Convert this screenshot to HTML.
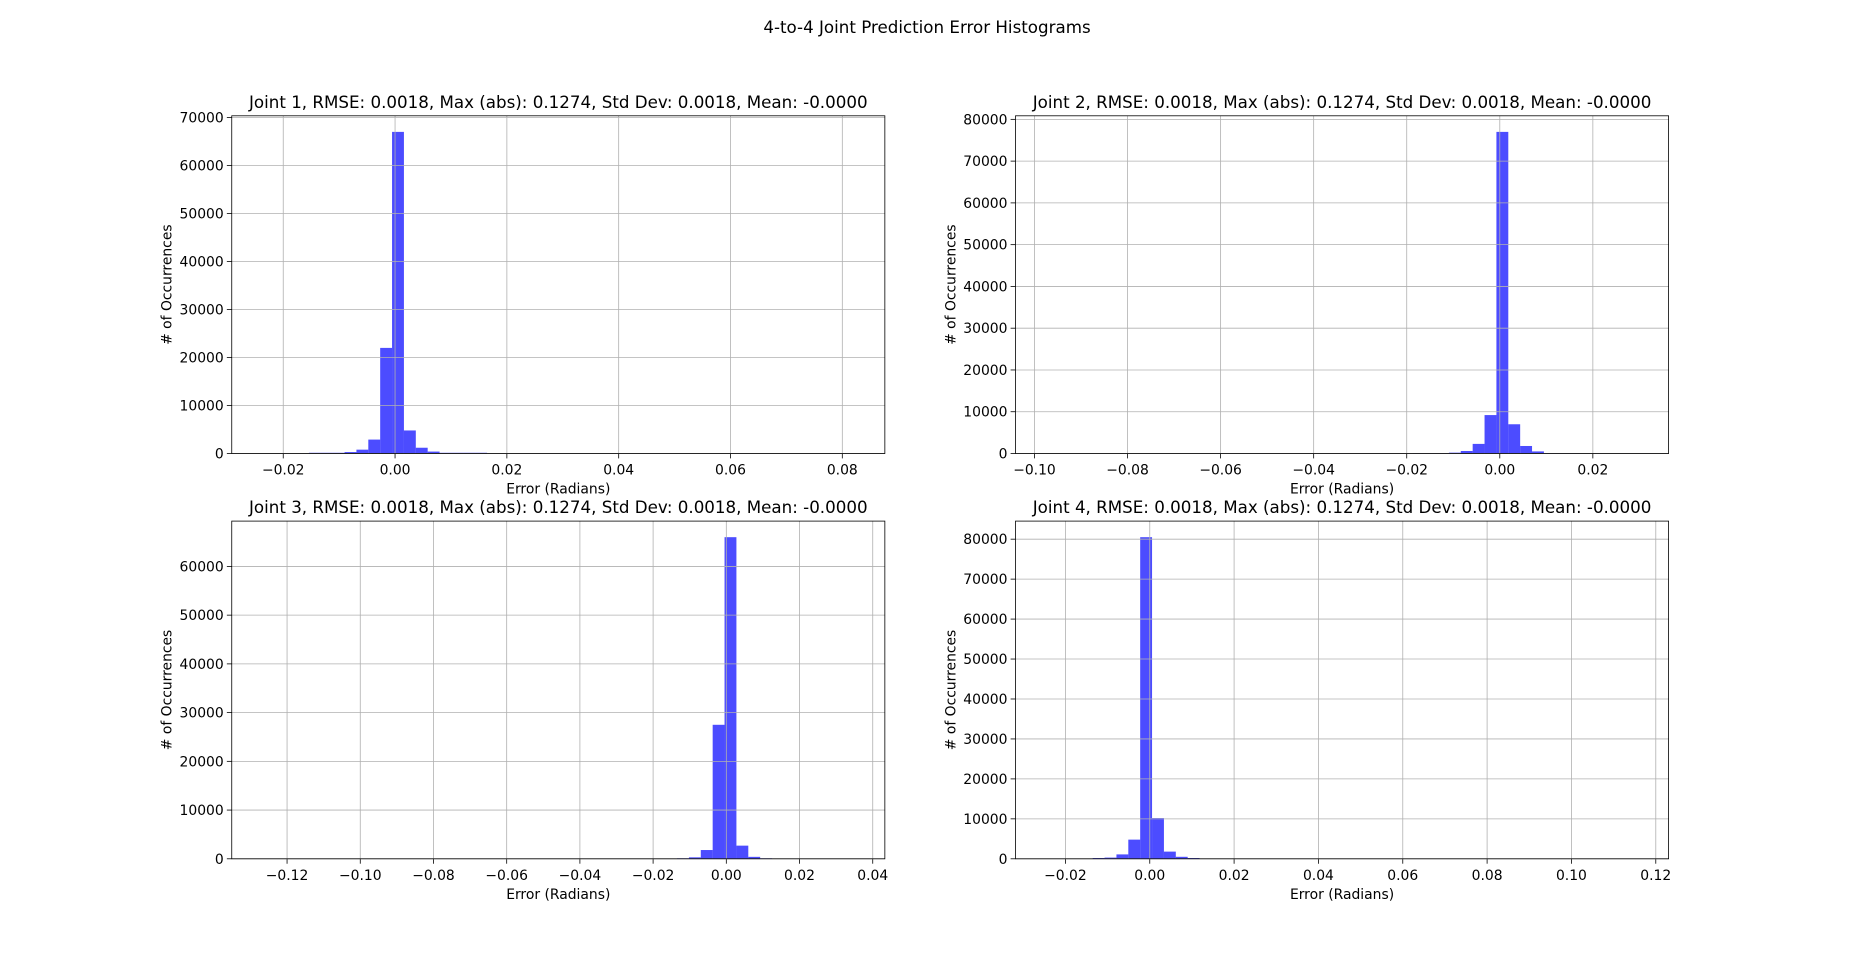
<!DOCTYPE html>
<html><head><meta charset="utf-8"><style>
body{margin:0;background:#fff}
svg{display:block;font-family:"DejaVu Sans","Liberation Sans",sans-serif}
</style></head><body>
<svg id="fig" width="1854" height="965">
<rect width="1854" height="965" fill="#fff"/>
<text x="927" y="33" font-size="16.7" text-anchor="middle">4-to-4 Joint Prediction Error Histograms</text>
</svg>
<script>
const titles=["Joint 1","Joint 2","Joint 3","Joint 4"];
const binMin=[-0.0239,-0.0977,-0.1270,-0.0248];
const binMax=[0.0823,0.0299,0.0352,0.1160];
const counts1=[0,0,0,0,150,150,150,300,800,2900,22000,67000,4800,1200,400,150,150,150,150,0,0,0,0,0,0,0,0,0,0,0,0,0,0,0,0,0,0,0,0,0,0,0,0,0,0,0,0,0,0,0];
const counts2=[0,0,0,0,0,0,0,0,0,0,0,0,0,0,0,0,0,0,0,0,0,0,0,0,0,0,0,0,0,0,0,100,100,100,200,600,2300,9200,77000,7000,1800,500,100,100,100,0,0,0,0,0];
const counts3=[0,0,0,0,0,0,0,0,0,0,0,0,0,0,0,0,0,0,0,0,0,0,0,0,0,0,0,0,0,0,0,0,0,0,0,100,300,1800,27500,66000,2700,400,100,0,0,0,0,0,0,0];
const counts4=[0,0,0,0,200,300,1100,4800,80500,10200,1800,500,200,0,0,0,0,0,0,0,0,0,0,0,0,0,0,0,0,0,0,0,0,0,0,0,0,0,0,0,0,0,0,0,0,0,0,0,0,0];
const xTicks1=[-0.02,0,0.02,0.04,0.06,0.08];
const xTicks2=[-0.10,-0.08,-0.06,-0.04,-0.02,0,0.02];
const xTicks3=[-0.12,-0.10,-0.08,-0.06,-0.04,-0.02,0,0.02,0.04];
const xTicks4=[-0.02,0,0.02,0.04,0.06,0.08,0.10,0.12];
const yTicks1=[0,10000,20000,30000,40000,50000,60000,70000];
const yTicks2=[0,10000,20000,30000,40000,50000,60000,70000,80000];
const yTicks3=[0,10000,20000,30000,40000,50000,60000];
const yTicks4=[0,10000,20000,30000,40000,50000,60000,70000,80000];
const allCounts=[counts1,counts2,counts3,counts4];
const allX=[xTicks1,xTicks2,xTicks3,xTicks4];
const allY=[yTicks1,yTicks2,yTicks3,yTicks4];
const boxes=[[231.75,115.8,653.1,337.7],[1015.5,115.8,653.1,337.7],[231.75,521.1,653.1,337.7],[1015.5,521.1,653.1,337.7]];
const NS="http://www.w3.org/2000/svg";
const fig=document.getElementById('fig');
function mk(tag,attrs,parent){const e=document.createElementNS(NS,tag);for(const k in attrs)e.setAttribute(k,attrs[k]);(parent||fig).appendChild(e);return e;}
function fmtX(v){if(Math.abs(v)<1e-12)return "0.00";return (v<0?"\u2212":"")+Math.abs(v).toFixed(2);}
for(let i=0;i<4;i++){
  const [L,T,W,H]=boxes[i];
  const c=allCounts[i], n=c.length;
  const span=binMax[i]-binMin[i], pad=span*0.05;
  const x0=binMin[i]-pad, x1=binMax[i]+pad;
  const ymax=Math.max(...c)*1.05;
  const X=v=>L+(v-x0)/(x1-x0)*W;
  const Y=v=>T+H-v/ymax*H;
  const g=mk('g',{});
  
  
  const bw=span/n;
  for(let k=0;k<n;k++){
    if(c[k]<=0)continue;
    const xa=X(binMin[i]+k*bw), xb=X(binMin[i]+(k+1)*bw);
    const r=mk('rect',{x:xa,y:Y(c[k]),width:xb-xa,height:Y(0)-Y(c[k]),fill:'#0000ff','fill-opacity':0.7},g);
    
    
  }
  allX[i].forEach(t=>{
    const x=X(t);
    const gl=mk('line',{x1:x,x2:x,y1:T,y2:T+H,stroke:'#b0b0b0','stroke-width':0.8},g);
    
    
    mk('line',{x1:x,x2:x,y1:T+H,y2:T+H+4.9,stroke:'#000','stroke-width':0.8},g);
    const tx=mk('text',{x:x,y:T+H+21,'font-size':13.9,'text-anchor':'middle'},g);
    tx.textContent=fmtX(t);
    
    
  });
  allY[i].forEach(t=>{
    const y=Y(t);
    const gl=mk('line',{x1:L,x2:L+W,y1:y,y2:y,stroke:'#b0b0b0','stroke-width':0.8},g);
    
    
    mk('line',{x1:L-4.9,x2:L,y1:y,y2:y,stroke:'#000','stroke-width':0.8},g);
    const tx=mk('text',{x:L-8,y:y+5,'font-size':13.9,'text-anchor':'end'},g);
    tx.textContent=String(t);
    
    
  });
  mk('rect',{x:L,y:T,width:W,height:H,fill:'none',stroke:'#000','stroke-width':0.8},g);
  const tt=mk('text',{x:L+W/2,y:T-8,'font-size':16.7,'text-anchor':'middle'},g);
  tt.textContent=titles[i]+", RMSE: 0.0018, Max (abs): 0.1274, Std Dev: 0.0018, Mean: -0.0000";
  
  
  const xl=mk('text',{x:L+W/2,y:T+H+40,'font-size':13.9,'text-anchor':'middle'},g);
  xl.textContent="Error (Radians)";
  
  
  const yx=L-60, yy=T+H/2;
  const yl=mk('text',{x:yx,y:yy,'font-size':13.9,'text-anchor':'middle',transform:`rotate(-90 ${yx} ${yy})`},g);
  yl.textContent="# of Occurrences";
  
  
}
</script>
</body></html>
